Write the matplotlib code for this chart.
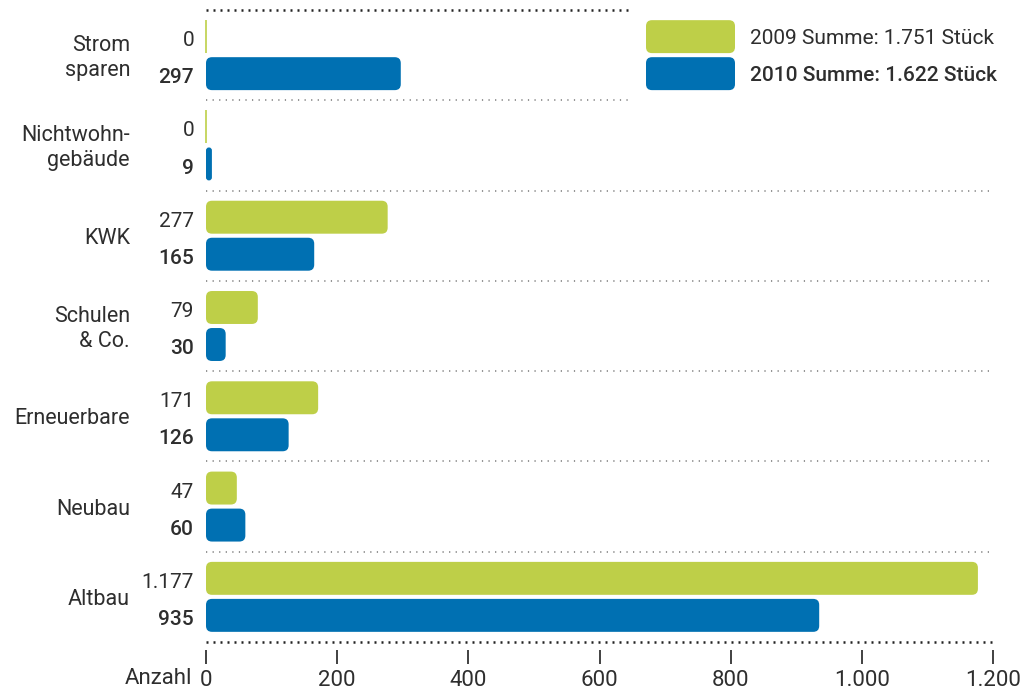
import matplotlib
matplotlib.use("Agg")
import matplotlib.pyplot as plt
from matplotlib.patches import FancyBboxPatch

plt.rcParams['font.family'] = ['Roboto', 'DejaVu Sans']

categories = ["Strom\nsparen", "Nichtwohn-\ngebäude", "KWK", "Schulen\n& Co.",
              "Erneuerbare", "Neubau", "Altbau"]
values_2009 = [0, 0, 277, 79, 171, 47, 1177]
values_2010 = [297, 9, 165, 30, 126, 60, 935]
labels_2009 = ["0", "0", "277", "79", "171", "47", "1.177"]
labels_2010 = ["297", "9", "165", "30", "126", "60", "935"]
legend_labels = ["2009 Summe: 1.751 Stück", "2010 Summe: 1.622 Stück"]
xticks = [0, 200, 400, 600, 800, 1000, 1200]
xtick_labels = ["0", "200", "400", "600", "800", "1.000", "1.200"]

GREEN = "#BECF48"
BLUE = "#0070B2"
TEXT = "#2e2e2e"
STRONG = 500

W, H = 1024, 690
fig = plt.figure(figsize=(W / 100, H / 100), dpi=100)
ax = fig.add_axes([206 / W, 1 - 642 / H, (993 - 206) / W, (642 - 10) / H])
ax.set_xlim(0, 1200)
ax.set_ylim(6.5, -0.5)

# pixel -> data scale factors used for corner rounding
px_x = 1200 / (993 - 206)
px_y = 7.0 / (642 - 10)
aspect = px_y / px_x
radius_px = 6

bar_h = 0.365
offset = 0.205
label_shift = 0.045


def rounded_bar(x0, yc, width, color):
    if width <= 0:
        ax.plot([x0, x0], [yc - bar_h / 2, yc + bar_h / 2], color=color,
                lw=1.2, solid_capstyle="butt", clip_on=False)
        return
    r = min(radius_px * px_x, width / 2)
    p = FancyBboxPatch((x0, yc - bar_h / 2), width, bar_h,
                       boxstyle=f"round,pad=0,rounding_size={r}",
                       mutation_aspect=aspect, facecolor=color,
                       edgecolor="none", clip_on=False)
    ax.add_patch(p)


ytrans = ax.get_yaxis_transform()
for i, cat in enumerate(categories):
    rounded_bar(0, i - offset, values_2009[i], GREEN)
    rounded_bar(0, i + offset, values_2010[i], BLUE)
    ax.text(-12 / 787, i - offset + label_shift, labels_2009[i],
            transform=ytrans, ha="right", va="center", fontsize=15,
            color=TEXT)
    ax.text(-12 / 787, i + offset + label_shift, labels_2010[i],
            transform=ytrans, ha="right", va="center", fontsize=15,
            color=TEXT, fontweight=STRONG)
    ax.text(-76 / 787, i + 0.03, cat, transform=ytrans, ha="right",
            va="center", fontsize=15.5, color=TEXT, linespacing=1.25)

# group separators
ax.plot([0, 650], [-0.5, -0.5], color="#222222", lw=1.8,
        linestyle=(0, (0.8, 2.0)), clip_on=False)
ax.plot([0, 650], [0.5, 0.5], color="#777777", lw=1.1,
        linestyle=(0, (0.8, 3.5)), clip_on=False)
for i in range(1, 6):
    ax.plot([0, 1195], [i + 0.5, i + 0.5], color="#777777", lw=1.1,
            linestyle=(0, (0.8, 3.5)), clip_on=False)
ax.plot([0, 1198], [6.5, 6.5], color="#222222", lw=1.8,
        linestyle=(0, (0.8, 2.0)), clip_on=False)

# legend
lx0 = (646 - 206) * px_x
lw_ = (735 - 646) * px_x
rounded_bar(lx0, -offset, lw_, GREEN)
rounded_bar(lx0, offset, lw_, BLUE)
ax.text((750 - 206) * px_x, -offset + 0.025, legend_labels[0], ha="left",
        va="center", fontsize=15, color=TEXT)
ax.text((750 - 206) * px_x, offset + 0.025, legend_labels[1], ha="left",
        va="center", fontsize=15, color=TEXT, fontweight=STRONG)

for name, s in ax.spines.items():
    s.set_visible(False)
ax.spines["bottom"].set_position(("outward", 6))
ax.set_yticks([])
ax.set_xticks(xticks)
ax.set_xticklabels(xtick_labels, fontsize=16, color=TEXT)
ax.tick_params(axis="x", length=10, width=1.3, color="#333333", pad=4,
               direction="out")
fig.text(192 / W, 1 - 684 / H, "Anzahl", ha="right", va="baseline",
         fontsize=16, color=TEXT)

fig.savefig("out.png", dpi=100, facecolor="white")
